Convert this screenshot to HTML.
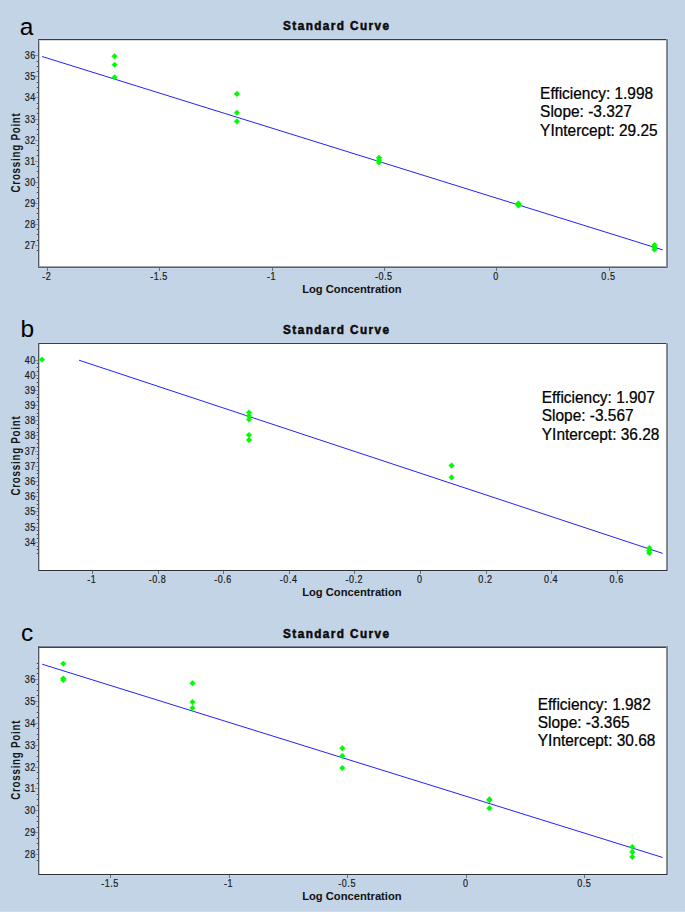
<!DOCTYPE html>
<html><head><meta charset="utf-8"><style>
html,body{margin:0;padding:0;background:#c2d4e6;}
svg{display:block;}
text{font-family:"Liberation Sans",sans-serif;}
.let{font-size:24.5px;fill:#000;}
.ttl{font-size:12px;font-weight:bold;fill:#0a0a0a;letter-spacing:1.45px;stroke:#0a0a0a;stroke-width:0.5px;}
.tk{font-size:10px;fill:#1a1a1a;stroke:#1a1a1a;stroke-width:0.2px;letter-spacing:0.6px;}
.ax{font-size:11.2px;font-weight:bold;fill:#111;}
.cp{font-size:12.4px;font-weight:bold;fill:#151515;letter-spacing:0.95px;}
.st{font-size:16px;fill:#000;stroke:#000;stroke-width:0.25px;}
</style></head><body>
<svg width="685" height="912" viewBox="0 0 685 912">
<rect x="0" y="0" width="685" height="912" fill="#c2d4e6"/>
<rect x="0" y="911" width="685" height="1" fill="#cedbea"/>
<text x="19.7" y="34.7" class="let">a</text>
<text x="0" y="0" class="ttl" text-anchor="middle" transform="translate(336.8 29.8) scale(0.98 1)">Standard Curve</text>
<rect x="37" y="38" width="632" height="231" fill="#c8d9eb"/>
<rect x="38" y="39" width="630" height="229" fill="#fff"/>
<rect x="38" y="39" width="630" height="1" fill="#363b40"/>
<rect x="38" y="40" width="630" height="1" fill="#d6d7d8"/>
<rect x="38" y="266" width="630" height="1" fill="#a4a7aa"/>
<rect x="38" y="267" width="630" height="1" fill="#56606a"/>
<rect x="38" y="39" width="1" height="229" fill="#4f5861"/>
<rect x="39" y="41" width="1" height="225" fill="#c4c6c9"/>
<rect x="666" y="39" width="1" height="227" fill="#8a8c8f"/>
<rect x="667" y="39" width="1" height="229" fill="#76818d"/>
<rect x="37" y="250" width="1" height="1" fill="#444b52"/><rect x="36" y="250" width="1" height="1" fill="#aab4bf"/>
<rect x="37" y="245" width="1" height="1" fill="#444b52"/><rect x="36" y="245" width="1" height="1" fill="#aab4bf"/>
<rect x="37" y="240" width="1" height="1" fill="#444b52"/><rect x="36" y="240" width="1" height="1" fill="#aab4bf"/>
<rect x="37" y="234" width="1" height="1" fill="#444b52"/><rect x="36" y="234" width="1" height="1" fill="#aab4bf"/>
<rect x="37" y="229" width="1" height="1" fill="#444b52"/><rect x="36" y="229" width="1" height="1" fill="#aab4bf"/>
<rect x="37" y="224" width="1" height="1" fill="#444b52"/><rect x="36" y="224" width="1" height="1" fill="#aab4bf"/>
<rect x="37" y="219" width="1" height="1" fill="#444b52"/><rect x="36" y="219" width="1" height="1" fill="#aab4bf"/>
<rect x="37" y="213" width="1" height="1" fill="#444b52"/><rect x="36" y="213" width="1" height="1" fill="#aab4bf"/>
<rect x="37" y="208" width="1" height="1" fill="#444b52"/><rect x="36" y="208" width="1" height="1" fill="#aab4bf"/>
<rect x="37" y="203" width="1" height="1" fill="#444b52"/><rect x="36" y="203" width="1" height="1" fill="#aab4bf"/>
<rect x="37" y="198" width="1" height="1" fill="#444b52"/><rect x="36" y="198" width="1" height="1" fill="#aab4bf"/>
<rect x="37" y="192" width="1" height="1" fill="#444b52"/><rect x="36" y="192" width="1" height="1" fill="#aab4bf"/>
<rect x="37" y="187" width="1" height="1" fill="#444b52"/><rect x="36" y="187" width="1" height="1" fill="#aab4bf"/>
<rect x="37" y="182" width="1" height="1" fill="#444b52"/><rect x="36" y="182" width="1" height="1" fill="#aab4bf"/>
<rect x="37" y="177" width="1" height="1" fill="#444b52"/><rect x="36" y="177" width="1" height="1" fill="#aab4bf"/>
<rect x="37" y="171" width="1" height="1" fill="#444b52"/><rect x="36" y="171" width="1" height="1" fill="#aab4bf"/>
<rect x="37" y="166" width="1" height="1" fill="#444b52"/><rect x="36" y="166" width="1" height="1" fill="#aab4bf"/>
<rect x="37" y="161" width="1" height="1" fill="#444b52"/><rect x="36" y="161" width="1" height="1" fill="#aab4bf"/>
<rect x="37" y="155" width="1" height="1" fill="#444b52"/><rect x="36" y="155" width="1" height="1" fill="#aab4bf"/>
<rect x="37" y="150" width="1" height="1" fill="#444b52"/><rect x="36" y="150" width="1" height="1" fill="#aab4bf"/>
<rect x="37" y="145" width="1" height="1" fill="#444b52"/><rect x="36" y="145" width="1" height="1" fill="#aab4bf"/>
<rect x="37" y="140" width="1" height="1" fill="#444b52"/><rect x="36" y="140" width="1" height="1" fill="#aab4bf"/>
<rect x="37" y="134" width="1" height="1" fill="#444b52"/><rect x="36" y="134" width="1" height="1" fill="#aab4bf"/>
<rect x="37" y="129" width="1" height="1" fill="#444b52"/><rect x="36" y="129" width="1" height="1" fill="#aab4bf"/>
<rect x="37" y="124" width="1" height="1" fill="#444b52"/><rect x="36" y="124" width="1" height="1" fill="#aab4bf"/>
<rect x="37" y="119" width="1" height="1" fill="#444b52"/><rect x="36" y="119" width="1" height="1" fill="#aab4bf"/>
<rect x="37" y="113" width="1" height="1" fill="#444b52"/><rect x="36" y="113" width="1" height="1" fill="#aab4bf"/>
<rect x="37" y="108" width="1" height="1" fill="#444b52"/><rect x="36" y="108" width="1" height="1" fill="#aab4bf"/>
<rect x="37" y="103" width="1" height="1" fill="#444b52"/><rect x="36" y="103" width="1" height="1" fill="#aab4bf"/>
<rect x="37" y="97" width="1" height="1" fill="#444b52"/><rect x="36" y="97" width="1" height="1" fill="#aab4bf"/>
<rect x="37" y="92" width="1" height="1" fill="#444b52"/><rect x="36" y="92" width="1" height="1" fill="#aab4bf"/>
<rect x="37" y="87" width="1" height="1" fill="#444b52"/><rect x="36" y="87" width="1" height="1" fill="#aab4bf"/>
<rect x="37" y="82" width="1" height="1" fill="#444b52"/><rect x="36" y="82" width="1" height="1" fill="#aab4bf"/>
<rect x="37" y="76" width="1" height="1" fill="#444b52"/><rect x="36" y="76" width="1" height="1" fill="#aab4bf"/>
<rect x="37" y="71" width="1" height="1" fill="#444b52"/><rect x="36" y="71" width="1" height="1" fill="#aab4bf"/>
<rect x="37" y="66" width="1" height="1" fill="#444b52"/><rect x="36" y="66" width="1" height="1" fill="#aab4bf"/>
<rect x="37" y="61" width="1" height="1" fill="#444b52"/><rect x="36" y="61" width="1" height="1" fill="#aab4bf"/>
<rect x="37" y="55" width="1" height="1" fill="#444b52"/><rect x="36" y="55" width="1" height="1" fill="#aab4bf"/>
<rect x="35" y="245" width="3" height="1" fill="#8d939a"/>
<text x="0" y="0" class="tk" text-anchor="end" transform="translate(35.8 248.98) scale(0.9 1)">27</text>
<rect x="35" y="224" width="3" height="1" fill="#8d939a"/>
<text x="0" y="0" class="tk" text-anchor="end" transform="translate(35.8 227.91) scale(0.9 1)">28</text>
<rect x="35" y="203" width="3" height="1" fill="#8d939a"/>
<text x="0" y="0" class="tk" text-anchor="end" transform="translate(35.8 206.84) scale(0.9 1)">29</text>
<rect x="35" y="182" width="3" height="1" fill="#8d939a"/>
<text x="0" y="0" class="tk" text-anchor="end" transform="translate(35.8 185.77) scale(0.9 1)">30</text>
<rect x="35" y="161" width="3" height="1" fill="#8d939a"/>
<text x="0" y="0" class="tk" text-anchor="end" transform="translate(35.8 164.70) scale(0.9 1)">31</text>
<rect x="35" y="140" width="3" height="1" fill="#8d939a"/>
<text x="0" y="0" class="tk" text-anchor="end" transform="translate(35.8 143.63) scale(0.9 1)">32</text>
<rect x="35" y="119" width="3" height="1" fill="#8d939a"/>
<text x="0" y="0" class="tk" text-anchor="end" transform="translate(35.8 122.56) scale(0.9 1)">33</text>
<rect x="35" y="97" width="3" height="1" fill="#8d939a"/>
<text x="0" y="0" class="tk" text-anchor="end" transform="translate(35.8 101.49) scale(0.9 1)">34</text>
<rect x="35" y="76" width="3" height="1" fill="#8d939a"/>
<text x="0" y="0" class="tk" text-anchor="end" transform="translate(35.8 80.42) scale(0.9 1)">35</text>
<rect x="35" y="55" width="3" height="1" fill="#8d939a"/>
<text x="0" y="0" class="tk" text-anchor="end" transform="translate(35.8 59.35) scale(0.9 1)">36</text>
<rect x="47" y="268" width="1" height="3" fill="#6b7178"/>
<text x="0" y="0" class="tk" text-anchor="middle" transform="translate(46.76 280.40) scale(0.9 1)">-2</text>
<rect x="159" y="268" width="1" height="3" fill="#6b7178"/>
<text x="0" y="0" class="tk" text-anchor="middle" transform="translate(159.09 280.40) scale(0.9 1)">-1.5</text>
<rect x="272" y="268" width="1" height="3" fill="#6b7178"/>
<text x="0" y="0" class="tk" text-anchor="middle" transform="translate(271.42 280.40) scale(0.9 1)">-1</text>
<rect x="384" y="268" width="1" height="3" fill="#6b7178"/>
<text x="0" y="0" class="tk" text-anchor="middle" transform="translate(383.75 280.40) scale(0.9 1)">-0.5</text>
<rect x="496" y="268" width="1" height="3" fill="#6b7178"/>
<text x="0" y="0" class="tk" text-anchor="middle" transform="translate(496.08 280.40) scale(0.9 1)">0</text>
<rect x="609" y="268" width="1" height="3" fill="#6b7178"/>
<text x="0" y="0" class="tk" text-anchor="middle" transform="translate(608.41 280.40) scale(0.9 1)">0.5</text>
<text x="351.9" y="293.30" class="ax" text-anchor="middle">Log Concentration</text>
<text x="0" y="0" class="cp" text-anchor="middle" transform="translate(19.7 152.45) rotate(-90) scale(0.79 1)">Crossing Point</text>
<line x1="42.1" y1="56.5" x2="662.7" y2="249.9" stroke="#2222ff" stroke-width="1.0"/>
<path d="M114.6 53.5L117.39999999999999 56.3L114.6 59.099999999999994L111.8 56.3Z" fill="#00fa00" stroke="#00fa00" stroke-width="0.5" stroke-linejoin="round"/>
<path d="M114.6 62.0L117.39999999999999 64.8L114.6 67.6L111.8 64.8Z" fill="#00fa00" stroke="#00fa00" stroke-width="0.5" stroke-linejoin="round"/>
<path d="M114.6 74.60000000000001L117.39999999999999 77.4L114.6 80.2L111.8 77.4Z" fill="#00fa00" stroke="#00fa00" stroke-width="0.5" stroke-linejoin="round"/>
<path d="M236.9 91.10000000000001L239.70000000000002 93.9L236.9 96.7L234.1 93.9Z" fill="#00fa00" stroke="#00fa00" stroke-width="0.5" stroke-linejoin="round"/>
<path d="M236.9 109.9L239.70000000000002 112.7L236.9 115.5L234.1 112.7Z" fill="#00fa00" stroke="#00fa00" stroke-width="0.5" stroke-linejoin="round"/>
<path d="M236.9 118.60000000000001L239.70000000000002 121.4L236.9 124.2L234.1 121.4Z" fill="#00fa00" stroke="#00fa00" stroke-width="0.5" stroke-linejoin="round"/>
<path d="M379 155.0L381.8 157.8L379 160.60000000000002L376.2 157.8Z" fill="#00fa00" stroke="#00fa00" stroke-width="0.5" stroke-linejoin="round"/>
<path d="M379 157.39999999999998L381.8 160.2L379 163.0L376.2 160.2Z" fill="#00fa00" stroke="#00fa00" stroke-width="0.5" stroke-linejoin="round"/>
<path d="M379 159.7L381.8 162.5L379 165.3L376.2 162.5Z" fill="#00fa00" stroke="#00fa00" stroke-width="0.5" stroke-linejoin="round"/>
<path d="M518.4 200.7L521.1999999999999 203.5L518.4 206.3L515.6 203.5Z" fill="#00fa00" stroke="#00fa00" stroke-width="0.5" stroke-linejoin="round"/>
<path d="M518.4 202.7L521.1999999999999 205.5L518.4 208.3L515.6 205.5Z" fill="#00fa00" stroke="#00fa00" stroke-width="0.5" stroke-linejoin="round"/>
<path d="M518.4 201.7L521.1999999999999 204.5L518.4 207.3L515.6 204.5Z" fill="#00fa00" stroke="#00fa00" stroke-width="0.5" stroke-linejoin="round"/>
<path d="M654.5 242.2L657.3 245L654.5 247.8L651.7 245Z" fill="#00fa00" stroke="#00fa00" stroke-width="0.5" stroke-linejoin="round"/>
<path d="M654.5 244.39999999999998L657.3 247.2L654.5 250.0L651.7 247.2Z" fill="#00fa00" stroke="#00fa00" stroke-width="0.5" stroke-linejoin="round"/>
<path d="M654.5 246.7L657.3 249.5L654.5 252.3L651.7 249.5Z" fill="#00fa00" stroke="#00fa00" stroke-width="0.5" stroke-linejoin="round"/>
<text x="0" y="0" class="st" transform="translate(540.10 98.80) scale(0.965 1)">Efficiency: 1.998</text>
<text x="0" y="0" class="st" transform="translate(540.10 117.25) scale(0.965 1)">Slope: -3.327</text>
<text x="0" y="0" class="st" transform="translate(540.10 135.70) scale(0.965 1)">YIntercept: 29.25</text>
<text x="20.6" y="336.9" class="let">b</text>
<text x="0" y="0" class="ttl" text-anchor="middle" transform="translate(336.8 333.5) scale(0.98 1)">Standard Curve</text>
<rect x="37" y="342" width="632" height="230" fill="#c8d9eb"/>
<rect x="38" y="343" width="630" height="228" fill="#fff"/>
<rect x="38" y="343" width="630" height="1" fill="#3a3e42"/>
<rect x="38" y="570" width="630" height="1" fill="#2c2f32"/>
<rect x="38" y="343" width="1" height="228" fill="#4f5861"/>
<rect x="39" y="344" width="1" height="226" fill="#c4c6c9"/>
<rect x="666" y="343" width="1" height="227" fill="#8a8c8f"/>
<rect x="667" y="343" width="1" height="228" fill="#76818d"/>
<rect x="37" y="553" width="1" height="1" fill="#444b52"/><rect x="36" y="553" width="1" height="1" fill="#aab4bf"/>
<rect x="37" y="549" width="1" height="1" fill="#444b52"/><rect x="36" y="549" width="1" height="1" fill="#aab4bf"/>
<rect x="37" y="546" width="1" height="1" fill="#444b52"/><rect x="36" y="546" width="1" height="1" fill="#aab4bf"/>
<rect x="37" y="542" width="1" height="1" fill="#444b52"/><rect x="36" y="542" width="1" height="1" fill="#aab4bf"/>
<rect x="37" y="538" width="1" height="1" fill="#444b52"/><rect x="36" y="538" width="1" height="1" fill="#aab4bf"/>
<rect x="37" y="534" width="1" height="1" fill="#444b52"/><rect x="36" y="534" width="1" height="1" fill="#aab4bf"/>
<rect x="37" y="530" width="1" height="1" fill="#444b52"/><rect x="36" y="530" width="1" height="1" fill="#aab4bf"/>
<rect x="37" y="527" width="1" height="1" fill="#444b52"/><rect x="36" y="527" width="1" height="1" fill="#aab4bf"/>
<rect x="37" y="523" width="1" height="1" fill="#444b52"/><rect x="36" y="523" width="1" height="1" fill="#aab4bf"/>
<rect x="37" y="519" width="1" height="1" fill="#444b52"/><rect x="36" y="519" width="1" height="1" fill="#aab4bf"/>
<rect x="37" y="515" width="1" height="1" fill="#444b52"/><rect x="36" y="515" width="1" height="1" fill="#aab4bf"/>
<rect x="37" y="511" width="1" height="1" fill="#444b52"/><rect x="36" y="511" width="1" height="1" fill="#aab4bf"/>
<rect x="37" y="508" width="1" height="1" fill="#444b52"/><rect x="36" y="508" width="1" height="1" fill="#aab4bf"/>
<rect x="37" y="504" width="1" height="1" fill="#444b52"/><rect x="36" y="504" width="1" height="1" fill="#aab4bf"/>
<rect x="37" y="500" width="1" height="1" fill="#444b52"/><rect x="36" y="500" width="1" height="1" fill="#aab4bf"/>
<rect x="37" y="496" width="1" height="1" fill="#444b52"/><rect x="36" y="496" width="1" height="1" fill="#aab4bf"/>
<rect x="37" y="492" width="1" height="1" fill="#444b52"/><rect x="36" y="492" width="1" height="1" fill="#aab4bf"/>
<rect x="37" y="489" width="1" height="1" fill="#444b52"/><rect x="36" y="489" width="1" height="1" fill="#aab4bf"/>
<rect x="37" y="485" width="1" height="1" fill="#444b52"/><rect x="36" y="485" width="1" height="1" fill="#aab4bf"/>
<rect x="37" y="481" width="1" height="1" fill="#444b52"/><rect x="36" y="481" width="1" height="1" fill="#aab4bf"/>
<rect x="37" y="477" width="1" height="1" fill="#444b52"/><rect x="36" y="477" width="1" height="1" fill="#aab4bf"/>
<rect x="37" y="473" width="1" height="1" fill="#444b52"/><rect x="36" y="473" width="1" height="1" fill="#aab4bf"/>
<rect x="37" y="470" width="1" height="1" fill="#444b52"/><rect x="36" y="470" width="1" height="1" fill="#aab4bf"/>
<rect x="37" y="466" width="1" height="1" fill="#444b52"/><rect x="36" y="466" width="1" height="1" fill="#aab4bf"/>
<rect x="37" y="462" width="1" height="1" fill="#444b52"/><rect x="36" y="462" width="1" height="1" fill="#aab4bf"/>
<rect x="37" y="458" width="1" height="1" fill="#444b52"/><rect x="36" y="458" width="1" height="1" fill="#aab4bf"/>
<rect x="37" y="454" width="1" height="1" fill="#444b52"/><rect x="36" y="454" width="1" height="1" fill="#aab4bf"/>
<rect x="37" y="451" width="1" height="1" fill="#444b52"/><rect x="36" y="451" width="1" height="1" fill="#aab4bf"/>
<rect x="37" y="447" width="1" height="1" fill="#444b52"/><rect x="36" y="447" width="1" height="1" fill="#aab4bf"/>
<rect x="37" y="443" width="1" height="1" fill="#444b52"/><rect x="36" y="443" width="1" height="1" fill="#aab4bf"/>
<rect x="37" y="439" width="1" height="1" fill="#444b52"/><rect x="36" y="439" width="1" height="1" fill="#aab4bf"/>
<rect x="37" y="435" width="1" height="1" fill="#444b52"/><rect x="36" y="435" width="1" height="1" fill="#aab4bf"/>
<rect x="37" y="432" width="1" height="1" fill="#444b52"/><rect x="36" y="432" width="1" height="1" fill="#aab4bf"/>
<rect x="37" y="428" width="1" height="1" fill="#444b52"/><rect x="36" y="428" width="1" height="1" fill="#aab4bf"/>
<rect x="37" y="424" width="1" height="1" fill="#444b52"/><rect x="36" y="424" width="1" height="1" fill="#aab4bf"/>
<rect x="37" y="420" width="1" height="1" fill="#444b52"/><rect x="36" y="420" width="1" height="1" fill="#aab4bf"/>
<rect x="37" y="416" width="1" height="1" fill="#444b52"/><rect x="36" y="416" width="1" height="1" fill="#aab4bf"/>
<rect x="37" y="413" width="1" height="1" fill="#444b52"/><rect x="36" y="413" width="1" height="1" fill="#aab4bf"/>
<rect x="37" y="409" width="1" height="1" fill="#444b52"/><rect x="36" y="409" width="1" height="1" fill="#aab4bf"/>
<rect x="37" y="405" width="1" height="1" fill="#444b52"/><rect x="36" y="405" width="1" height="1" fill="#aab4bf"/>
<rect x="37" y="401" width="1" height="1" fill="#444b52"/><rect x="36" y="401" width="1" height="1" fill="#aab4bf"/>
<rect x="37" y="397" width="1" height="1" fill="#444b52"/><rect x="36" y="397" width="1" height="1" fill="#aab4bf"/>
<rect x="37" y="394" width="1" height="1" fill="#444b52"/><rect x="36" y="394" width="1" height="1" fill="#aab4bf"/>
<rect x="37" y="390" width="1" height="1" fill="#444b52"/><rect x="36" y="390" width="1" height="1" fill="#aab4bf"/>
<rect x="37" y="386" width="1" height="1" fill="#444b52"/><rect x="36" y="386" width="1" height="1" fill="#aab4bf"/>
<rect x="37" y="382" width="1" height="1" fill="#444b52"/><rect x="36" y="382" width="1" height="1" fill="#aab4bf"/>
<rect x="37" y="378" width="1" height="1" fill="#444b52"/><rect x="36" y="378" width="1" height="1" fill="#aab4bf"/>
<rect x="37" y="375" width="1" height="1" fill="#444b52"/><rect x="36" y="375" width="1" height="1" fill="#aab4bf"/>
<rect x="37" y="371" width="1" height="1" fill="#444b52"/><rect x="36" y="371" width="1" height="1" fill="#aab4bf"/>
<rect x="37" y="367" width="1" height="1" fill="#444b52"/><rect x="36" y="367" width="1" height="1" fill="#aab4bf"/>
<rect x="37" y="363" width="1" height="1" fill="#444b52"/><rect x="36" y="363" width="1" height="1" fill="#aab4bf"/>
<rect x="37" y="360" width="1" height="1" fill="#444b52"/><rect x="36" y="360" width="1" height="1" fill="#aab4bf"/>
<rect x="35" y="360" width="3" height="1" fill="#8d939a"/>
<text x="0" y="0" class="tk" text-anchor="end" transform="translate(35.8 363.50) scale(0.9 1)">40</text>
<rect x="35" y="375" width="3" height="1" fill="#8d939a"/>
<text x="0" y="0" class="tk" text-anchor="end" transform="translate(35.8 378.69) scale(0.9 1)">40</text>
<rect x="35" y="390" width="3" height="1" fill="#8d939a"/>
<text x="0" y="0" class="tk" text-anchor="end" transform="translate(35.8 393.88) scale(0.9 1)">39</text>
<rect x="35" y="405" width="3" height="1" fill="#8d939a"/>
<text x="0" y="0" class="tk" text-anchor="end" transform="translate(35.8 409.07) scale(0.9 1)">39</text>
<rect x="35" y="420" width="3" height="1" fill="#8d939a"/>
<text x="0" y="0" class="tk" text-anchor="end" transform="translate(35.8 424.26) scale(0.9 1)">38</text>
<rect x="35" y="435" width="3" height="1" fill="#8d939a"/>
<text x="0" y="0" class="tk" text-anchor="end" transform="translate(35.8 439.45) scale(0.9 1)">38</text>
<rect x="35" y="451" width="3" height="1" fill="#8d939a"/>
<text x="0" y="0" class="tk" text-anchor="end" transform="translate(35.8 454.64) scale(0.9 1)">37</text>
<rect x="35" y="466" width="3" height="1" fill="#8d939a"/>
<text x="0" y="0" class="tk" text-anchor="end" transform="translate(35.8 469.83) scale(0.9 1)">37</text>
<rect x="35" y="481" width="3" height="1" fill="#8d939a"/>
<text x="0" y="0" class="tk" text-anchor="end" transform="translate(35.8 485.02) scale(0.9 1)">36</text>
<rect x="35" y="496" width="3" height="1" fill="#8d939a"/>
<text x="0" y="0" class="tk" text-anchor="end" transform="translate(35.8 500.21) scale(0.9 1)">36</text>
<rect x="35" y="511" width="3" height="1" fill="#8d939a"/>
<text x="0" y="0" class="tk" text-anchor="end" transform="translate(35.8 515.40) scale(0.9 1)">35</text>
<rect x="35" y="527" width="3" height="1" fill="#8d939a"/>
<text x="0" y="0" class="tk" text-anchor="end" transform="translate(35.8 530.59) scale(0.9 1)">35</text>
<rect x="35" y="542" width="3" height="1" fill="#8d939a"/>
<text x="0" y="0" class="tk" text-anchor="end" transform="translate(35.8 545.78) scale(0.9 1)">34</text>
<rect x="92" y="571" width="1" height="3" fill="#6b7178"/>
<text x="0" y="0" class="tk" text-anchor="middle" transform="translate(91.86 583.40) scale(0.9 1)">-1</text>
<rect x="158" y="571" width="1" height="3" fill="#6b7178"/>
<text x="0" y="0" class="tk" text-anchor="middle" transform="translate(157.45 583.40) scale(0.9 1)">-0.8</text>
<rect x="223" y="571" width="1" height="3" fill="#6b7178"/>
<text x="0" y="0" class="tk" text-anchor="middle" transform="translate(223.05 583.40) scale(0.9 1)">-0.6</text>
<rect x="289" y="571" width="1" height="3" fill="#6b7178"/>
<text x="0" y="0" class="tk" text-anchor="middle" transform="translate(288.64 583.40) scale(0.9 1)">-0.4</text>
<rect x="354" y="571" width="1" height="3" fill="#6b7178"/>
<text x="0" y="0" class="tk" text-anchor="middle" transform="translate(354.24 583.40) scale(0.9 1)">-0.2</text>
<rect x="420" y="571" width="1" height="3" fill="#6b7178"/>
<text x="0" y="0" class="tk" text-anchor="middle" transform="translate(419.83 583.40) scale(0.9 1)">0</text>
<rect x="486" y="571" width="1" height="3" fill="#6b7178"/>
<text x="0" y="0" class="tk" text-anchor="middle" transform="translate(485.42 583.40) scale(0.9 1)">0.2</text>
<rect x="551" y="571" width="1" height="3" fill="#6b7178"/>
<text x="0" y="0" class="tk" text-anchor="middle" transform="translate(551.02 583.40) scale(0.9 1)">0.4</text>
<rect x="617" y="571" width="1" height="3" fill="#6b7178"/>
<text x="0" y="0" class="tk" text-anchor="middle" transform="translate(616.61 583.40) scale(0.9 1)">0.6</text>
<text x="351.9" y="596.30" class="ax" text-anchor="middle">Log Concentration</text>
<text x="0" y="0" class="cp" text-anchor="middle" transform="translate(19.7 455.50) rotate(-90) scale(0.79 1)">Crossing Point</text>
<line x1="79" y1="360.2" x2="662.7" y2="553.4" stroke="#2222ff" stroke-width="1.0"/>
<path d="M42 356.8L44.8 359.6L42 362.40000000000003L39.2 359.6Z" fill="#00fa00" stroke="#00fa00" stroke-width="0.5" stroke-linejoin="round"/>
<path d="M249 409.7L251.8 412.5L249 415.3L246.2 412.5Z" fill="#00fa00" stroke="#00fa00" stroke-width="0.5" stroke-linejoin="round"/>
<path d="M249 413.2L251.8 416L249 418.8L246.2 416Z" fill="#00fa00" stroke="#00fa00" stroke-width="0.5" stroke-linejoin="round"/>
<path d="M249 416.7L251.8 419.5L249 422.3L246.2 419.5Z" fill="#00fa00" stroke="#00fa00" stroke-width="0.5" stroke-linejoin="round"/>
<path d="M249 432.2L251.8 435L249 437.8L246.2 435Z" fill="#00fa00" stroke="#00fa00" stroke-width="0.5" stroke-linejoin="round"/>
<path d="M249 437.2L251.8 440L249 442.8L246.2 440Z" fill="#00fa00" stroke="#00fa00" stroke-width="0.5" stroke-linejoin="round"/>
<path d="M451.6 462.8L454.40000000000003 465.6L451.6 468.40000000000003L448.8 465.6Z" fill="#00fa00" stroke="#00fa00" stroke-width="0.5" stroke-linejoin="round"/>
<path d="M451.6 474.59999999999997L454.40000000000003 477.4L451.6 480.2L448.8 477.4Z" fill="#00fa00" stroke="#00fa00" stroke-width="0.5" stroke-linejoin="round"/>
<path d="M649.3 545.2L652.0999999999999 548L649.3 550.8L646.5 548Z" fill="#00fa00" stroke="#00fa00" stroke-width="0.5" stroke-linejoin="round"/>
<path d="M649.3 547.7L652.0999999999999 550.5L649.3 553.3L646.5 550.5Z" fill="#00fa00" stroke="#00fa00" stroke-width="0.5" stroke-linejoin="round"/>
<path d="M649.3 550.2L652.0999999999999 553L649.3 555.8L646.5 553Z" fill="#00fa00" stroke="#00fa00" stroke-width="0.5" stroke-linejoin="round"/>
<text x="0" y="0" class="st" transform="translate(541.80 402.60) scale(0.965 1)">Efficiency: 1.907</text>
<text x="0" y="0" class="st" transform="translate(541.80 421.05) scale(0.965 1)">Slope: -3.567</text>
<text x="0" y="0" class="st" transform="translate(541.80 439.50) scale(0.965 1)">YIntercept: 36.28</text>
<text x="20.9" y="641.3" class="let">c</text>
<text x="0" y="0" class="ttl" text-anchor="middle" transform="translate(336.8 637.8) scale(0.98 1)">Standard Curve</text>
<rect x="37" y="645" width="632" height="231" fill="#c8d9eb"/>
<rect x="38" y="646" width="630" height="229" fill="#fff"/>
<rect x="38" y="646" width="630" height="1" fill="#7b8693"/>
<rect x="38" y="647" width="630" height="1" fill="#3f4245"/>
<rect x="38" y="874" width="630" height="1" fill="#2c2f32"/>
<rect x="38" y="646" width="1" height="229" fill="#4f5861"/>
<rect x="39" y="648" width="1" height="226" fill="#c4c6c9"/>
<rect x="666" y="646" width="1" height="228" fill="#8a8c8f"/>
<rect x="667" y="646" width="1" height="229" fill="#76818d"/>
<rect x="37" y="860" width="1" height="1" fill="#444b52"/><rect x="36" y="860" width="1" height="1" fill="#aab4bf"/>
<rect x="37" y="854" width="1" height="1" fill="#444b52"/><rect x="36" y="854" width="1" height="1" fill="#aab4bf"/>
<rect x="37" y="849" width="1" height="1" fill="#444b52"/><rect x="36" y="849" width="1" height="1" fill="#aab4bf"/>
<rect x="37" y="843" width="1" height="1" fill="#444b52"/><rect x="36" y="843" width="1" height="1" fill="#aab4bf"/>
<rect x="37" y="838" width="1" height="1" fill="#444b52"/><rect x="36" y="838" width="1" height="1" fill="#aab4bf"/>
<rect x="37" y="832" width="1" height="1" fill="#444b52"/><rect x="36" y="832" width="1" height="1" fill="#aab4bf"/>
<rect x="37" y="827" width="1" height="1" fill="#444b52"/><rect x="36" y="827" width="1" height="1" fill="#aab4bf"/>
<rect x="37" y="821" width="1" height="1" fill="#444b52"/><rect x="36" y="821" width="1" height="1" fill="#aab4bf"/>
<rect x="37" y="816" width="1" height="1" fill="#444b52"/><rect x="36" y="816" width="1" height="1" fill="#aab4bf"/>
<rect x="37" y="810" width="1" height="1" fill="#444b52"/><rect x="36" y="810" width="1" height="1" fill="#aab4bf"/>
<rect x="37" y="805" width="1" height="1" fill="#444b52"/><rect x="36" y="805" width="1" height="1" fill="#aab4bf"/>
<rect x="37" y="799" width="1" height="1" fill="#444b52"/><rect x="36" y="799" width="1" height="1" fill="#aab4bf"/>
<rect x="37" y="794" width="1" height="1" fill="#444b52"/><rect x="36" y="794" width="1" height="1" fill="#aab4bf"/>
<rect x="37" y="788" width="1" height="1" fill="#444b52"/><rect x="36" y="788" width="1" height="1" fill="#aab4bf"/>
<rect x="37" y="783" width="1" height="1" fill="#444b52"/><rect x="36" y="783" width="1" height="1" fill="#aab4bf"/>
<rect x="37" y="778" width="1" height="1" fill="#444b52"/><rect x="36" y="778" width="1" height="1" fill="#aab4bf"/>
<rect x="37" y="772" width="1" height="1" fill="#444b52"/><rect x="36" y="772" width="1" height="1" fill="#aab4bf"/>
<rect x="37" y="767" width="1" height="1" fill="#444b52"/><rect x="36" y="767" width="1" height="1" fill="#aab4bf"/>
<rect x="37" y="761" width="1" height="1" fill="#444b52"/><rect x="36" y="761" width="1" height="1" fill="#aab4bf"/>
<rect x="37" y="756" width="1" height="1" fill="#444b52"/><rect x="36" y="756" width="1" height="1" fill="#aab4bf"/>
<rect x="37" y="750" width="1" height="1" fill="#444b52"/><rect x="36" y="750" width="1" height="1" fill="#aab4bf"/>
<rect x="37" y="745" width="1" height="1" fill="#444b52"/><rect x="36" y="745" width="1" height="1" fill="#aab4bf"/>
<rect x="37" y="739" width="1" height="1" fill="#444b52"/><rect x="36" y="739" width="1" height="1" fill="#aab4bf"/>
<rect x="37" y="734" width="1" height="1" fill="#444b52"/><rect x="36" y="734" width="1" height="1" fill="#aab4bf"/>
<rect x="37" y="728" width="1" height="1" fill="#444b52"/><rect x="36" y="728" width="1" height="1" fill="#aab4bf"/>
<rect x="37" y="723" width="1" height="1" fill="#444b52"/><rect x="36" y="723" width="1" height="1" fill="#aab4bf"/>
<rect x="37" y="717" width="1" height="1" fill="#444b52"/><rect x="36" y="717" width="1" height="1" fill="#aab4bf"/>
<rect x="37" y="712" width="1" height="1" fill="#444b52"/><rect x="36" y="712" width="1" height="1" fill="#aab4bf"/>
<rect x="37" y="706" width="1" height="1" fill="#444b52"/><rect x="36" y="706" width="1" height="1" fill="#aab4bf"/>
<rect x="37" y="701" width="1" height="1" fill="#444b52"/><rect x="36" y="701" width="1" height="1" fill="#aab4bf"/>
<rect x="37" y="695" width="1" height="1" fill="#444b52"/><rect x="36" y="695" width="1" height="1" fill="#aab4bf"/>
<rect x="37" y="690" width="1" height="1" fill="#444b52"/><rect x="36" y="690" width="1" height="1" fill="#aab4bf"/>
<rect x="37" y="684" width="1" height="1" fill="#444b52"/><rect x="36" y="684" width="1" height="1" fill="#aab4bf"/>
<rect x="37" y="679" width="1" height="1" fill="#444b52"/><rect x="36" y="679" width="1" height="1" fill="#aab4bf"/>
<rect x="37" y="673" width="1" height="1" fill="#444b52"/><rect x="36" y="673" width="1" height="1" fill="#aab4bf"/>
<rect x="37" y="668" width="1" height="1" fill="#444b52"/><rect x="36" y="668" width="1" height="1" fill="#aab4bf"/>
<rect x="37" y="663" width="1" height="1" fill="#444b52"/><rect x="36" y="663" width="1" height="1" fill="#aab4bf"/>
<rect x="35" y="854" width="3" height="1" fill="#8d939a"/>
<text x="0" y="0" class="tk" text-anchor="end" transform="translate(35.8 858.15) scale(0.9 1)">28</text>
<rect x="35" y="832" width="3" height="1" fill="#8d939a"/>
<text x="0" y="0" class="tk" text-anchor="end" transform="translate(35.8 836.25) scale(0.9 1)">29</text>
<rect x="35" y="810" width="3" height="1" fill="#8d939a"/>
<text x="0" y="0" class="tk" text-anchor="end" transform="translate(35.8 814.35) scale(0.9 1)">30</text>
<rect x="35" y="788" width="3" height="1" fill="#8d939a"/>
<text x="0" y="0" class="tk" text-anchor="end" transform="translate(35.8 792.45) scale(0.9 1)">31</text>
<rect x="35" y="767" width="3" height="1" fill="#8d939a"/>
<text x="0" y="0" class="tk" text-anchor="end" transform="translate(35.8 770.55) scale(0.9 1)">32</text>
<rect x="35" y="745" width="3" height="1" fill="#8d939a"/>
<text x="0" y="0" class="tk" text-anchor="end" transform="translate(35.8 748.65) scale(0.9 1)">33</text>
<rect x="35" y="723" width="3" height="1" fill="#8d939a"/>
<text x="0" y="0" class="tk" text-anchor="end" transform="translate(35.8 726.75) scale(0.9 1)">34</text>
<rect x="35" y="701" width="3" height="1" fill="#8d939a"/>
<text x="0" y="0" class="tk" text-anchor="end" transform="translate(35.8 704.85) scale(0.9 1)">35</text>
<rect x="35" y="679" width="3" height="1" fill="#8d939a"/>
<text x="0" y="0" class="tk" text-anchor="end" transform="translate(35.8 682.95) scale(0.9 1)">36</text>
<rect x="110" y="875" width="1" height="3" fill="#6b7178"/>
<text x="0" y="0" class="tk" text-anchor="middle" transform="translate(109.96 887.40) scale(0.9 1)">-1.5</text>
<rect x="229" y="875" width="1" height="3" fill="#6b7178"/>
<text x="0" y="0" class="tk" text-anchor="middle" transform="translate(228.54 887.40) scale(0.9 1)">-1</text>
<rect x="347" y="875" width="1" height="3" fill="#6b7178"/>
<text x="0" y="0" class="tk" text-anchor="middle" transform="translate(347.12 887.40) scale(0.9 1)">-0.5</text>
<rect x="466" y="875" width="1" height="3" fill="#6b7178"/>
<text x="0" y="0" class="tk" text-anchor="middle" transform="translate(465.70 887.40) scale(0.9 1)">0</text>
<rect x="584" y="875" width="1" height="3" fill="#6b7178"/>
<text x="0" y="0" class="tk" text-anchor="middle" transform="translate(584.28 887.40) scale(0.9 1)">0.5</text>
<text x="351.9" y="900.30" class="ax" text-anchor="middle">Log Concentration</text>
<text x="0" y="0" class="cp" text-anchor="middle" transform="translate(19.7 759.80) rotate(-90) scale(0.79 1)">Crossing Point</text>
<line x1="42.1" y1="664.2" x2="662.7" y2="857.5" stroke="#2222ff" stroke-width="1.0"/>
<path d="M63.3 660.9000000000001L66.1 663.7L63.3 666.5L60.5 663.7Z" fill="#00fa00" stroke="#00fa00" stroke-width="0.5" stroke-linejoin="round"/>
<path d="M63.3 675.7L66.1 678.5L63.3 681.3L60.5 678.5Z" fill="#00fa00" stroke="#00fa00" stroke-width="0.5" stroke-linejoin="round"/>
<path d="M63.3 677.2L66.1 680L63.3 682.8L60.5 680Z" fill="#00fa00" stroke="#00fa00" stroke-width="0.5" stroke-linejoin="round"/>
<path d="M192.5 680.5L195.3 683.3L192.5 686.0999999999999L189.7 683.3Z" fill="#00fa00" stroke="#00fa00" stroke-width="0.5" stroke-linejoin="round"/>
<path d="M192.5 699.3000000000001L195.3 702.1L192.5 704.9L189.7 702.1Z" fill="#00fa00" stroke="#00fa00" stroke-width="0.5" stroke-linejoin="round"/>
<path d="M192.5 705.2L195.3 708L192.5 710.8L189.7 708Z" fill="#00fa00" stroke="#00fa00" stroke-width="0.5" stroke-linejoin="round"/>
<path d="M342.3 745.4000000000001L345.1 748.2L342.3 751.0L339.5 748.2Z" fill="#00fa00" stroke="#00fa00" stroke-width="0.5" stroke-linejoin="round"/>
<path d="M342.3 753.1L345.1 755.9L342.3 758.6999999999999L339.5 755.9Z" fill="#00fa00" stroke="#00fa00" stroke-width="0.5" stroke-linejoin="round"/>
<path d="M342.3 765.2L345.1 768L342.3 770.8L339.5 768Z" fill="#00fa00" stroke="#00fa00" stroke-width="0.5" stroke-linejoin="round"/>
<path d="M489.4 796.6L492.2 799.4L489.4 802.1999999999999L486.59999999999997 799.4Z" fill="#00fa00" stroke="#00fa00" stroke-width="0.5" stroke-linejoin="round"/>
<path d="M489.4 797.4000000000001L492.2 800.2L489.4 803.0L486.59999999999997 800.2Z" fill="#00fa00" stroke="#00fa00" stroke-width="0.5" stroke-linejoin="round"/>
<path d="M489.4 805.5L492.2 808.3L489.4 811.0999999999999L486.59999999999997 808.3Z" fill="#00fa00" stroke="#00fa00" stroke-width="0.5" stroke-linejoin="round"/>
<path d="M632.3 844.2L635.0999999999999 847L632.3 849.8L629.5 847Z" fill="#00fa00" stroke="#00fa00" stroke-width="0.5" stroke-linejoin="round"/>
<path d="M632.3 849.1L635.0999999999999 851.9L632.3 854.6999999999999L629.5 851.9Z" fill="#00fa00" stroke="#00fa00" stroke-width="0.5" stroke-linejoin="round"/>
<path d="M632.3 854.1L635.0999999999999 856.9L632.3 859.6999999999999L629.5 856.9Z" fill="#00fa00" stroke="#00fa00" stroke-width="0.5" stroke-linejoin="round"/>
<text x="0" y="0" class="st" transform="translate(537.80 709.50) scale(0.965 1)">Efficiency: 1.982</text>
<text x="0" y="0" class="st" transform="translate(537.80 727.95) scale(0.965 1)">Slope: -3.365</text>
<text x="0" y="0" class="st" transform="translate(537.80 746.40) scale(0.965 1)">YIntercept: 30.68</text>
</svg>
</body></html>
